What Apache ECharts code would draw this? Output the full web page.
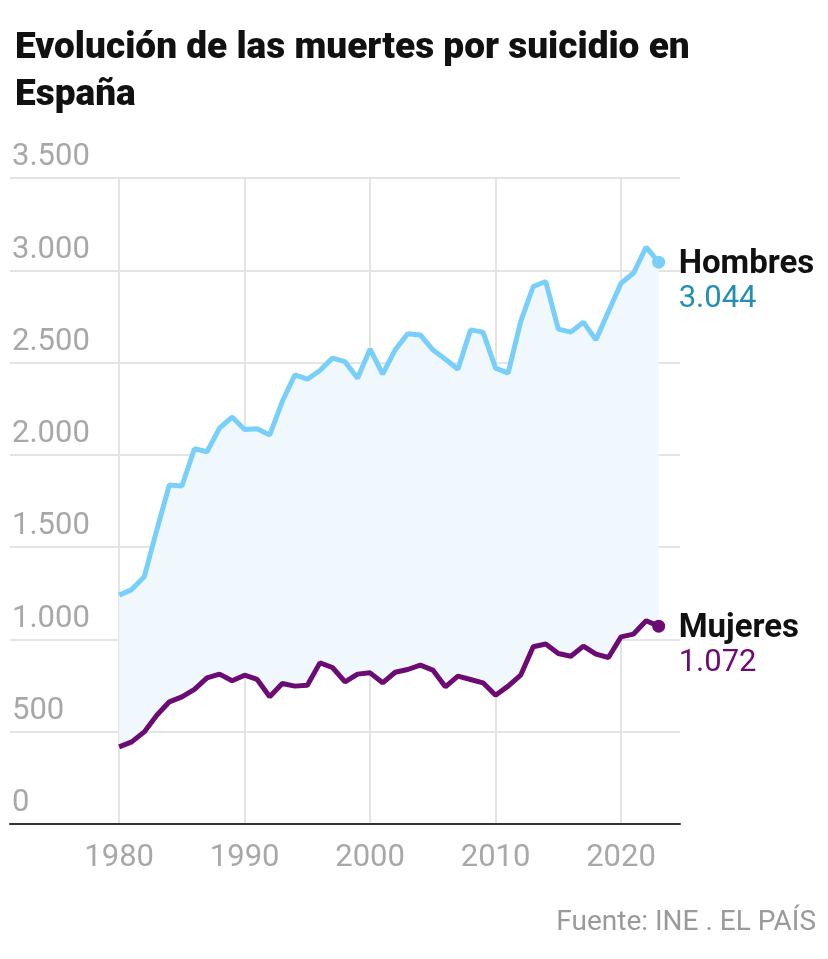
<!DOCTYPE html>
<html>
<head>
<meta charset="utf-8">
<script src="https://cdn.jsdelivr.net/npm/echarts@6/dist/echarts.min.js"></script>
<style>
html,body{margin:0;padding:0;background:#fff;}
#chart{width:828px;height:959px;}
</style>
</head>
<body>
<div id="chart"></div>
<script>
const years = [1980,1981,1982,1983,1984,1985,1986,1987,1988,1989,1990,1991,1992,1993,1994,1995,1996,1997,1998,1999,2000,2001,2002,2003,2004,2005,2006,2007,2008,2009,2010,2011,2012,2013,2014,2015,2016,2017,2018,2019,2020,2021,2022,2023];
const hombres = [1240,1270,1339,1593,1837,1831,2033,2017,2145,2205,2137,2142,2108,2289,2433,2410,2457,2524,2505,2415,2573,2438,2569,2656,2650,2569,2518,2464,2677,2665,2470,2443,2722,2912,2939,2681,2665,2719,2623,2777,2930,2985,3126,3044];
const mujeres = [418,445,499,589,662,689,729,792,812,776,806,783,689,761,747,752,873,848,770,812,819,765,822,837,861,834,743,801,783,765,698,747,806,960,975,924,909,964,920,902,1014,1029,1101,1072];
const xTicks = [1980,1990,2000,2010,2020];
const title = 'Evolución de las muertes por suicidio en\nEspaña';
const source = 'Fuente: INE . EL PAÍS';

function fmt(n){ return String(n).replace(/\B(?=(\d{3})+(?!\d))/g, '.'); }

const FONT = 'Roboto, "Noto Sans", sans-serif';
const last = years.length - 1;
const pairs = arr => years.map((y,i) => [y, arr[i]]);

const chart = echarts.init(document.getElementById('chart'), null, {renderer:'canvas'});
chart.setOption({
  animation: false,
  backgroundColor: '#fff',
  textStyle: {fontFamily: FONT},
  title: {
    text: title, left: 10, top: 20,
    textStyle: {fontFamily: FONT, fontSize: 37, fontWeight: 900, color: '#111', lineHeight: 47}
  },
  graphic: [{
    type: 'text', right: 12, top: 909,
    style: {text: source, fontFamily: FONT, fontSize: 28, fill: '#9a9a9a'}
  }],
  grid: {left: 10, right: 148, top: 178, bottom: 135},
  xAxis: {
    type: 'value', min: 1971.3, max: 2024.7,
    axisLine: {show: true, lineStyle: {color: '#333', width: 2}},
    axisTick: {show: false, customValues: xTicks},
    axisLabel: {customValues: xTicks, color: '#a8a8a8', fontSize: 31, margin: 19, fontFamily: FONT,
      formatter: v => String(v)},
    splitLine: {show: true, lineStyle: {color: '#e4e4e4', width: 2}}
  },
  yAxis: {
    type: 'value', min: 0, max: 3500, interval: 500,
    axisLine: {show: false}, axisTick: {show: false},
    axisLabel: {
      inside: true, margin: 2, align: 'left', verticalAlign: 'bottom',
      padding: [0,0,5,0], color: '#a8a8a8', fontSize: 31, fontFamily: FONT,
      formatter: v => fmt(v)
    },
    splitLine: {show: true, lineStyle: {color: '#e4e4e4', width: 2}}
  },
  series: [
    {
      name: 'band', type: 'custom', silent: true, z: 1,
      data: [0],
      renderItem: (params, api) => {
        const top = years.map((y,i) => api.coord([y, hombres[i]]));
        const bot = years.map((y,i) => api.coord([y, mujeres[i]])).reverse();
        return {type: 'polygon', shape: {points: top.concat(bot)}, style: {fill: '#f0f8fe'}};
      }
    },
    {
      name: 'Hombres', type: 'line', data: pairs(hombres), z: 3,
      symbol: 'circle', showSymbol: true,
      symbolSize: (v, p) => p.dataIndex === last ? 13 : 0,
      itemStyle: {color: '#78cffa'},
      lineStyle: {color: '#78cffa', width: 5},
      endLabel: {
        show: true, distance: 20, offset: [0, 20],
        formatter: p => '{n|' + p.seriesName + '}\n{v|' + fmt(p.value[1]) + '}',
        rich: {
          n: {fontFamily: FONT, fontSize: 33, fontWeight: 'bold', color: '#111', lineHeight: 34},
          v: {fontFamily: FONT, fontSize: 31, color: '#2390b0', lineHeight: 34}
        }
      }
    },
    {
      name: 'Mujeres', type: 'line', data: pairs(mujeres), z: 3,
      symbol: 'circle', showSymbol: true,
      symbolSize: (v, p) => p.dataIndex === last ? 13 : 0,
      itemStyle: {color: '#6b0b73'},
      lineStyle: {color: '#6b0b73', width: 5},
      endLabel: {
        show: true, distance: 20, offset: [0, 20],
        formatter: p => '{n|' + p.seriesName + '}\n{v|' + fmt(p.value[1]) + '}',
        rich: {
          n: {fontFamily: FONT, fontSize: 33, fontWeight: 'bold', color: '#111', lineHeight: 34},
          v: {fontFamily: FONT, fontSize: 31, color: '#6b0b73', lineHeight: 34}
        }
      }
    }
  ]
});
</script>
</body>
</html>
